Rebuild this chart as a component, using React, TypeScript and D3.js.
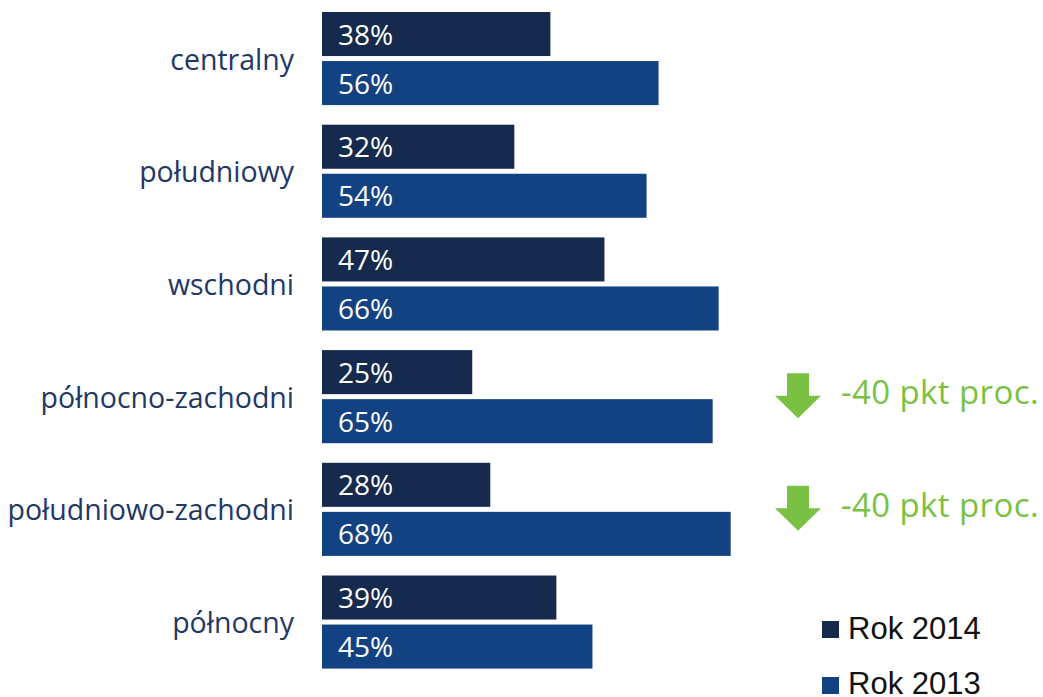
import React from "react";
import * as d3 from "d3";

const categories = [
  "centralny",
  "południowy",
  "wschodni",
  "północno-zachodni",
  "południowo-zachodni",
  "północny",
];
const series = ["Rok 2014", "Rok 2013"];
const values2014 = [38, 32, 47, 25, 28, 39];
const values2013 = [56, 54, 66, 65, 68, 45];
const callouts = [
  { category: "północno-zachodni", text: "-40 pkt proc." },
  { category: "południowo-zachodni", text: "-40 pkt proc." },
];

const W = 1043;
const H = 697;
const COLORS = ["#152A4D", "#134283"];
const LABEL = "#1F3864";
const GREEN = "#7AC143";
const FONT = "'Open Sans', sans-serif";

export default function App() {
  const x = d3.scaleLinear().domain([0, 100]).range([322, 322 + 601]);
  const y = d3.scaleBand<string>().domain(categories).range([12, 668.6]).paddingInner(0.174).paddingOuter(0);
  const y1 = d3.scaleBand<string>().domain(series).range([0, y.bandwidth()]).paddingInner(0.102);
  const data = [values2014, values2013];

  return (
    <svg width={W} height={H} style={{ position: "absolute", left: 0, top: 0, background: "#fff" }}>
      {categories.map((c, i) => {
        const y0 = y(c)!;
        const cy = y0 + y.bandwidth() / 2;
        return (
          <g key={c}>
            <text x={294} y={cy + 11} textAnchor="end" fontFamily={FONT} fontSize={28.5} fill={LABEL}>
              {c}
            </text>
            {series.map((s, j) => {
              const v = data[j][i];
              const by = y0 + y1(s)!;
              return (
                <g key={s}>
                  <rect x={x(0)} y={by} width={x(v) - x(0)} height={y1.bandwidth()} fill={COLORS[j]} />
                  <text x={x(0) + 16} y={by + y1.bandwidth() / 2 + 10.5} fontFamily={FONT} fontSize={28} fill="#fff">
                    {v}%
                  </text>
                </g>
              );
            })}
          </g>
        );
      })}
      {callouts.map((co) => {
        const cy = y(co.category)! + y.bandwidth() / 2 - 1;
        const ax = 798;
        const top = cy - 22.5;
        const headY = cy;
        const tip = cy + 22.5;
        const path = `M${ax - 11},${top} L${ax + 11},${top} L${ax + 11},${headY} L${ax + 23},${headY} L${ax},${tip} L${ax - 23},${headY} L${ax - 11},${headY} Z`;
        return (
          <g key={co.category}>
            <path d={path} fill={GREEN} />
            <text x={841} y={top + 31} fontFamily={FONT} fontSize={33} fill={GREEN} letterSpacing={0.4}>
              {co.text}
            </text>
          </g>
        );
      })}
      {series.map((s, j) => (
        <g key={s}>
          <rect x={822} y={621 + j * 56} width={17} height={17} fill={COLORS[j]} />
          <text x={848} y={639 + j * 55} fontFamily="'Liberation Sans', Arial, sans-serif" fontSize={31} fill="#111">
            {s}
          </text>
        </g>
      ))}
    </svg>
  );
}
